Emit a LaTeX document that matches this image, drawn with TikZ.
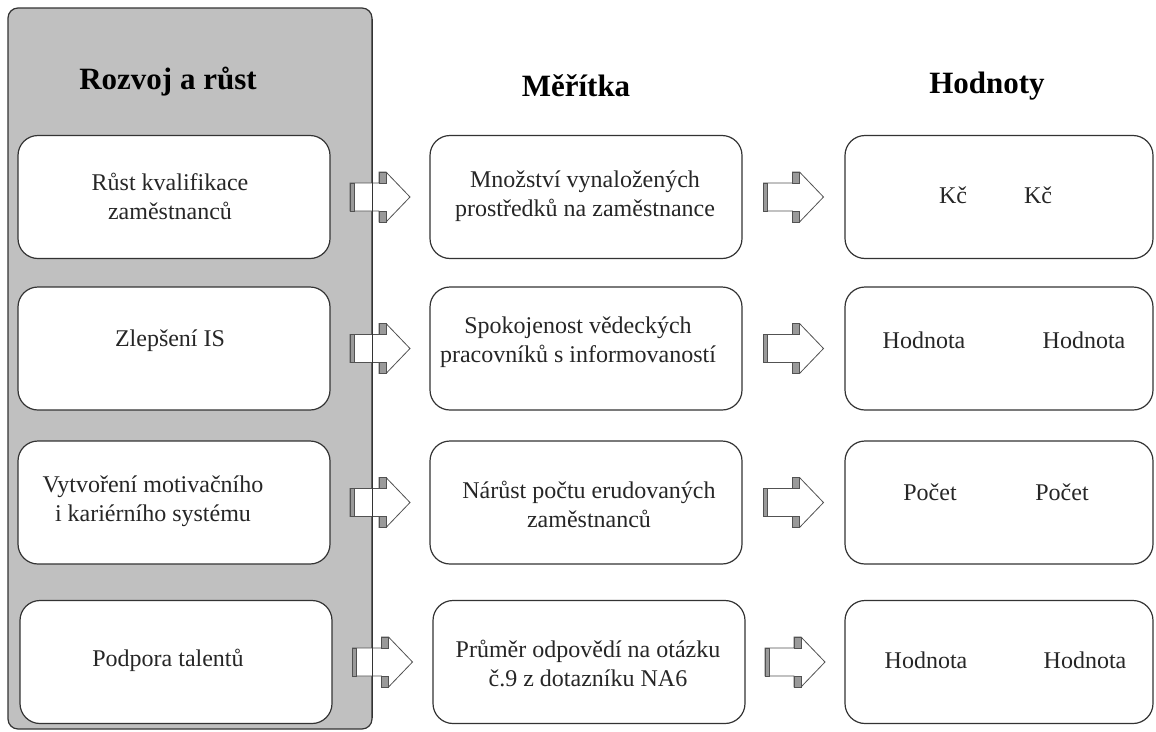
\documentclass[tikz,border=0pt]{standalone}
\usepackage{fontspec}
\setmainfont{Liberation Serif}
\usetikzlibrary{calc}
\definecolor{panelgray}{HTML}{C0C0C0}
\definecolor{edge}{HTML}{333333}
\definecolor{bandgray}{HTML}{9A9A9A}
\begin{document}
\begin{tikzpicture}[x=1pt,y=-1pt,
  panel/.style={draw=edge, line width=1.2pt, rounded corners=10pt, fill=panelgray,
                minimum width=364pt, minimum height=721pt, inner sep=0pt},
  box/.style={draw=edge, line width=1.2pt, rounded corners=20pt, fill=white,
              minimum width=312pt, minimum height=123pt, inner sep=0pt},
  rbox/.style={box, minimum width=308pt},
  txt/.style={font=\fontsize{24}{29}\selectfont, align=center, text=black!85, inner sep=0pt},
  head/.style={font=\fontsize{31}{36}\selectfont\bfseries, text=black, inner sep=0pt},
  barrow/.pic={
    \draw[edge!85, line width=0.8pt, fill=white]
      (-30,-14) -- (-1,-14) -- (-1,-25) -- (6,-25) -- (30,0) -- (6,25) -- (-1,25) -- (-1,14) -- (-30,14) -- cycle;
    \filldraw[fill=bandgray, draw=edge!85, line width=0.5pt] (-30,-14) rectangle (-26,14);
    \filldraw[fill=bandgray, draw=edge!85, line width=0.5pt] (-1,-25) rectangle (6,-14);
    \filldraw[fill=bandgray, draw=edge!85, line width=0.5pt] (-1,14) rectangle (6,25);
  }
]
\useasboundingbox (0,0) rectangle (1156,731);

% left panel
\node[panel] (P) at (190,368.5) {};

% column headings
\node[head] (h1) at (168,82) {Rozvoj a růst};
\node[head] (h2) at (576,86) {Měřítka};
\node[head] (h3) at (987,86) {Hodnoty};

% left column
\node[box] (L1) at (174,197) {};
\node[box] (L2) at (174,348.5) {};
\node[box] (L3) at (174,502.5) {};
\node[box] (L4) at (176,662) {};
\node[txt] (L1t) at ($(L1.center)+(-4,-1)$) {Růst kvalifikace\\zaměstnanců};
\node[txt] (L2t) at ($(L2.center)+(-4,-8)$) {Zlepšení IS};
\node[txt] (L3t) at ($(L3.center)+(-21,-1)$) {Vytvoření motivačního\\i kariérního systému};
\node[txt] (L4t) at ($(L4.center)+(-8,-2)$) {Podpora talentů};

% middle column
\node[box] (M1) at (586,197) {};
\node[box] (M2) at (586,348.5) {};
\node[box] (M3) at (586,502.5) {};
\node[box] (M4) at (589,662) {};
\node[txt] (M1t) at ($(M1.center)+(-1,-1)$) {Množství vynaložených\\prostředků na zaměstnance};
\node[txt] (M2t) at ($(M2.center)+(-8,-6)$) {Spokojenost vědeckých\\pracovníků s informovaností};
\node[txt] (M3t) at ($(M3.center)+(3,2)$) {Nárůst počtu erudovaných\\zaměstnanců};
\node[txt] (M4t) at ($(M4.center)+(-1,1)$) {Průměr odpovědí na otázku\\č.9 z dotazníku NA6};

% right column
\node[rbox] (R1) at (999,197) {};
\node[rbox] (R2) at (999,348.5) {};
\node[rbox] (R3) at (999,502.5) {};
\node[rbox] (R4) at (999,662) {};
\node[txt] (R1a) at ($(R1.center)+(-46,-2)$) {Kč};
\node[txt] (R1b) at ($(R1.center)+(39,-2)$) {Kč};
\node[txt] (R2a) at ($(R2.center)+(-75,-8)$) {Hodnota};
\node[txt] (R2b) at ($(R2.center)+(85,-8)$) {Hodnota};
\node[txt] (R3a) at ($(R3.center)+(-69,-10)$) {Počet};
\node[txt] (R3b) at ($(R3.center)+(63,-10)$) {Počet};
\node[txt] (R4a) at ($(R4.center)+(-73,-2)$) {Hodnota};
\node[txt] (R4b) at ($(R4.center)+(86,-2)$) {Hodnota};

% block arrows between the columns
\foreach \i in {1,2,3,4}{
  \pic at ($(L\i.east)!0.5!(M\i.west)$) {barrow};
  \pic at ($(M\i.east)!0.5!(R\i.west)$) {barrow};
}

% right edge of the panel runs over the first row of arrows
\draw[edge, line width=1.2pt] ($(P.north east)+(0,12)$) -- ($(P.south east)+(0,-12)$);
\end{tikzpicture}
\end{document}
